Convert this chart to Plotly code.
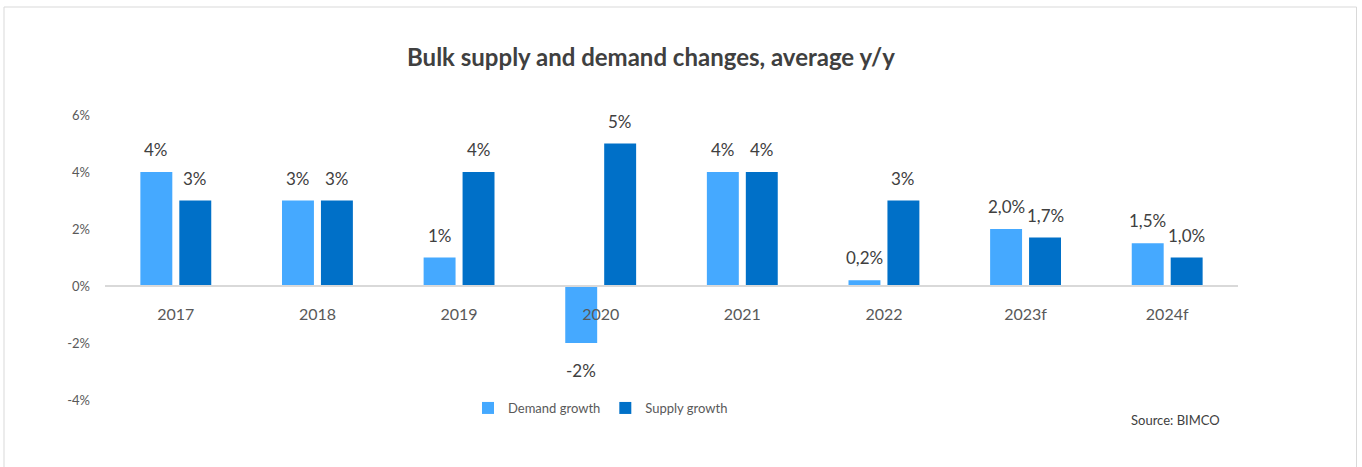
import plotly.graph_objects as go

# Bulk carrier fleet: demand vs. supply growth, y/y %
years = ["2017", "2018", "2019", "2020", "2021", "2022", "2023f", "2024f"]
demand_growth = [4, 3, 1, -2, 4, 0.2, 2.0, 1.5]
supply_growth = [3, 3, 4, 5, 4, 3, 1.7, 1.0]
demand_labels = ["4%", "3%", "1%", "-2%", "4%", "0,2%", "2,0%", "1,5%"]
supply_labels = ["3%", "3%", "4%", "5%", "4%", "3%", "1,7%", "1,0%"]
y_ticks = [-4, -2, 0, 2, 4, 6]
y_tick_text = ["-4%", "-2%", "0%", "2%", "4%", "6%"]

DEMAND_COLOR = "#45A9FF"
SUPPLY_COLOR = "#0070C8"
FONT = "Lato, 'Noto Sans', sans-serif"
W, H = 1362, 467
L, R, T, B = 105, 124, 115, 67
plot_w = W - L - R
plot_h = H - T - B

fig = go.Figure()
fig.add_trace(go.Bar(name="Demand growth", x=years, y=demand_growth,
                     marker=dict(color=DEMAND_COLOR, line=dict(width=0))))
fig.add_trace(go.Bar(name="Supply growth", x=years, y=supply_growth,
                     marker=dict(color=SUPPLY_COLOR, line=dict(width=0))))

# value labels above (or below, for negatives) each bar
annotations = []
for offset, vals, labels in ((-0.5, demand_growth, demand_labels),
                             (0.5, supply_growth, supply_labels)):
    for i, (v, lab) in enumerate(zip(vals, labels)):
        annotations.append(dict(
            x=i + offset * 0.275, y=v, xref="x", yref="y", text=lab,
            showarrow=False, yanchor="bottom" if v >= 0 else "top",
            yshift=10 if v >= 0 else -15,
            font=dict(family=FONT, size=17, color="#404040")))

annotations.append(dict(
    x=(1222 - L) / plot_w, y=-(420 - (H - B)) / plot_h,
    xref="paper", yref="paper", xanchor="right", yanchor="middle",
    text="Source: BIMCO", showarrow=False,
    font=dict(family=FONT, size=13, color="#404040")))

fig.update_layout(
    width=W, height=H,
    margin=dict(l=L, r=R, t=T, b=B),
    paper_bgcolor="white", plot_bgcolor="white",
    barmode="group", bargap=0.45, bargroupgap=0.18,
    title=dict(text="<b>Bulk supply and demand changes, average y/y</b>",
               x=651 / W, xref="container", xanchor="center",
               y=1 - 58 / H, yref="container", yanchor="middle",
               font=dict(family=FONT, size=24, color="#404040")),
    font=dict(family=FONT, color="#595959"),
    showlegend=True,
    legend=dict(orientation="h", x=(468 - L) / plot_w, xanchor="left",
                y=-(408 - (H - B)) / plot_h, yanchor="middle",
                font=dict(family=FONT, size=13, color="#595959"),
                itemwidth=30, traceorder="normal",
                bgcolor="rgba(0,0,0,0)"),
    annotations=annotations,
    shapes=[dict(type="rect", xref="paper", yref="paper",
                 x0=(4 - L) / plot_w, x1=(1356.5 - L) / plot_w,
                 y0=-(H + 5 - (H - B)) / plot_h, y1=((H - B) - 7) / plot_h,
                 line=dict(color="#D9D9D9", width=1), fillcolor="rgba(0,0,0,0)",
                 layer="below")],
)

fig.update_yaxes(range=[-4, 6], tickvals=y_ticks, ticktext=y_tick_text,
                 showgrid=False, zeroline=False, showline=False,
                 ticks="", ticklabelstandoff=14,
                 tickfont=dict(family=FONT, size=13, color="#595959"))
# category axis drawn along the zero line
fig.update_xaxes(anchor="free", position=0.4, showline=True,
                 linecolor="#D9D9D9", linewidth=2, ticks="",
                 showgrid=False, ticklabelstandoff=14,
                 tickfont=dict(family=FONT, size=16, color="#595959"))

fig.write_html("out.html")
